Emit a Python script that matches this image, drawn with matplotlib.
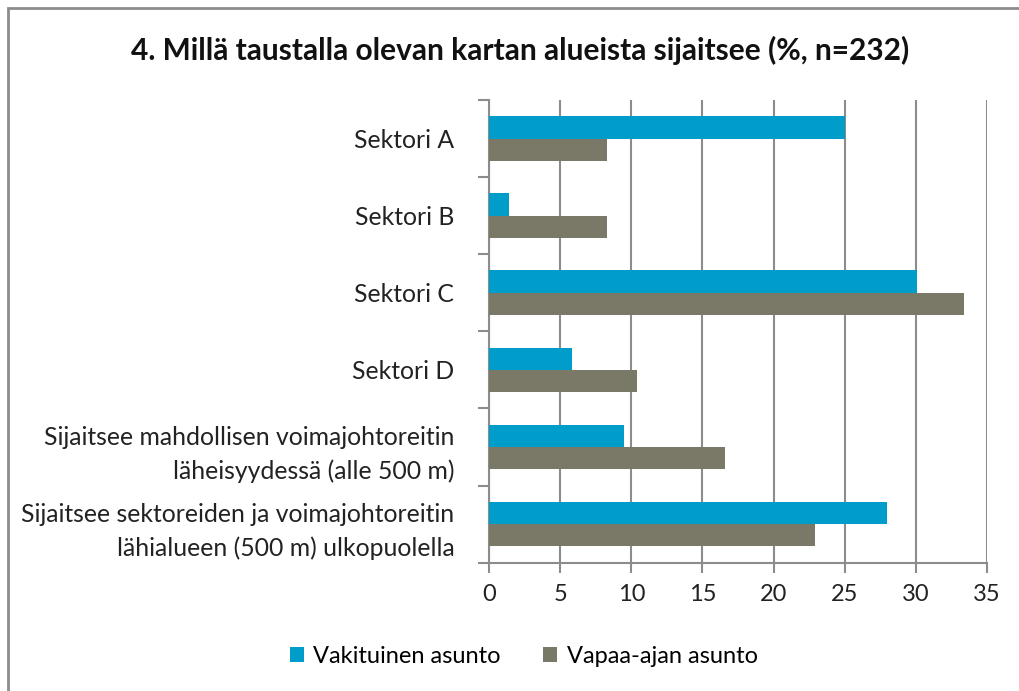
import matplotlib.pyplot as plt
import numpy as np
from matplotlib.patches import Rectangle

plt.rcParams["font.family"] = ["Lato", "DejaVu Sans"]

categories = [
    "Sektori A",
    "Sektori B",
    "Sektori C",
    "Sektori D",
    "Sijaitsee mahdollisen voimajohtoreitin\nläheisyydessä (alle 500 m)",
    "Sijaitsee sektoreiden ja voimajohtoreitin\nlähialueen (500 m) ulkopuolella",
]
vakituinen = [25.0, 1.4, 30.1, 5.8, 9.5, 28.0]
vapaa_ajan = [8.3, 8.3, 33.4, 10.4, 16.6, 22.9]

blue = "#009DCB"
grey = "#7A7866"
axis_grey = "#8C8C8C"

fig = plt.figure(figsize=(10.19, 6.91), dpi=100)
ax = fig.add_axes([0.4799, 0.1857, 0.4887, 0.6696])

y = np.arange(len(categories))
h = 0.29
ax.barh(y - h / 2, vakituinen, height=h, color=blue, label="Vakituinen asunto", zorder=3)
ax.barh(y + h / 2, vapaa_ajan, height=h, color=grey, label="Vapaa-ajan asunto", zorder=3)

ax.set_xlim(0, 35)
ax.set_ylim(len(categories) - 0.5, -0.5)
ax.set_xticks(np.arange(0, 36, 5))
ax.xaxis.grid(True, color=axis_grey, linewidth=1.5, zorder=0)

ax.set_yticks(y)
ax.set_yticklabels(categories, fontsize=17.8, color="#222222", linespacing=1.55)
ax.set_yticks(np.arange(-0.5, len(categories)), minor=True)
ax.tick_params(axis="y", which="major", length=0, pad=25)
ax.tick_params(axis="y", which="minor", length=8, width=1.5, color=axis_grey)
ax.tick_params(axis="x", length=7, width=1.5, color=axis_grey, labelsize=17,
               labelcolor="#222222", pad=8)

for side in ["top", "right"]:
    ax.spines[side].set_visible(False)
for side in ["left", "bottom"]:
    ax.spines[side].set_color(axis_grey)
    ax.spines[side].set_linewidth(1.5)

fig.text(0.51, 0.927, "4. Millä taustalla olevan kartan alueista sijaitsee (%, n=232)",
         ha="center", va="center", fontsize=21.5, fontweight="bold", color="#111111")

fig.legend(loc="center", bbox_to_anchor=(0.514, 0.05), ncol=2, frameon=False,
           fontsize=17, handlelength=0.6, handleheight=0.6, handletextpad=0.4,
           columnspacing=1.8)

fig.patches.append(Rectangle((8 / 1019, -0.1), 1.2, 1 - 8 / 691 + 0.1,
                             transform=fig.transFigure, fill=False,
                             edgecolor=axis_grey, linewidth=2))

fig.savefig("out.png", dpi=100)
